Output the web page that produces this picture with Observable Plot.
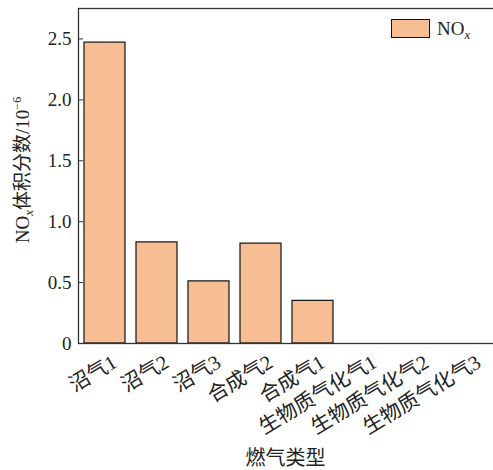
<!DOCTYPE html>
<html><head><meta charset="utf-8">
<script src="https://cdn.jsdelivr.net/npm/d3@7"></script>
<script src="https://cdn.jsdelivr.net/npm/@observablehq/plot@0.6"></script>
<style>
body{margin:0;background:#fff;}
svg{font-family:"Liberation Serif","Noto Sans CJK SC",serif;}
</style></head><body><div id="chart"></div>
<script>
const categories = ["沼气1","沼气2","沼气3","合成气2","合成气1","生物质气化气1","生物质气化气2","生物质气化气3"];
const noxValues = [2.47, 0.83, 0.51, 0.82, 0.35, 0, 0, 0];
const yTicks = [0, 0.5, 1.0, 1.5, 2.0, 2.5];
const seriesName = "NO";
const xTitle = "燃气类型";

const data = categories.map((c, i) => ({cat: c, v: noxValues[i]}));
const fill = "#F7BE94";
const ink = "#222";

const plot = Plot.plot({
  width: 493, height: 470,
  marginLeft: 78, marginTop: 8, marginBottom: 127, marginRight: -2,
  style: {fontFamily: '"Liberation Serif","Noto Sans CJK SC",serif', background: "#fff", color: ink},
  x: {domain: categories, paddingInner: 0.21, paddingOuter: 0.1, label: null},
  y: {domain: [0, 2.75], label: null},
  marks: [
    Plot.barY(data.filter(d => d.v > 0), {x: "cat", y: "v", fill: fill, stroke: "#111", strokeWidth: 1.2}),
    Plot.frame({stroke: "#333", strokeWidth: 1.3}),
    Plot.axisY({ticks: yTicks, tickSize: -5, tickFormat: () => "", stroke: "#333"}),
    Plot.axisY({ticks: yTicks, tickSize: 0, tickPadding: 7, fontSize: 19, fill: ink,
      tickFormat: d => d === 0 ? "0" : d.toFixed(1)}),
    Plot.axisX({tickSize: 0, tickRotate: -31, fontSize: 20.5, fill: ink, tickPadding: 2, dx: 10, dy: 15})
  ]
});
document.getElementById("chart").appendChild(plot);

const svg = d3.select(plot);
// y title
const yt = svg.append("text")
  .attr("transform", "translate(29,170) rotate(-90)")
  .attr("text-anchor", "middle")
  .attr("font-size", 19).attr("fill", ink);
yt.append("tspan").text("NO");
yt.append("tspan").attr("font-style", "italic").attr("font-size", 13).attr("dy", 4).text("x");
yt.append("tspan").attr("dy", -4).text("体积分数/10");
yt.append("tspan").attr("font-size", 12).attr("dy", -8).text("−6");
// x title
svg.append("text").attr("x", 285.5).attr("y", 465).attr("text-anchor", "middle")
  .attr("font-size", 20).attr("fill", ink).text(xTitle);
// legend
const lg = svg.append("g");
lg.append("rect").attr("x", 391.5).attr("y", 19.5).attr("width", 38).attr("height", 18)
  .attr("fill", fill).attr("stroke", "#111").attr("stroke-width", 1);
const lt = lg.append("text").attr("x", 437).attr("y", 35).attr("text-anchor", "start")
  .attr("font-size", 19).attr("fill", ink);
lt.append("tspan").text(seriesName);
lt.append("tspan").attr("font-style", "italic").attr("font-size", 13).attr("dy", 4).text("x");
</script></body></html>
